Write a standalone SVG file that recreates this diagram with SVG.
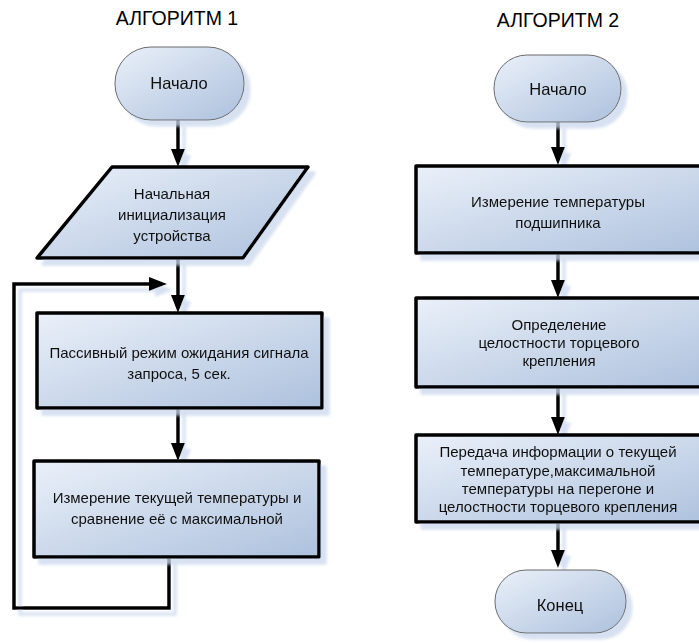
<svg xmlns="http://www.w3.org/2000/svg" width="699" height="643" viewBox="0 0 699 643">
<defs>
<linearGradient id="g" x1="0" y1="0" x2="1" y2="1">
<stop offset="0" stop-color="#eaf0f9"/>
<stop offset="1" stop-color="#adc1dd"/>
</linearGradient>
<filter id="sh" x="-10%" y="-10%" width="130%" height="130%">
<feGaussianBlur in="SourceAlpha" stdDeviation="1.5" result="b"/>
<feOffset in="b" dx="6" dy="6" result="o"/>
<feFlood flood-color="#c9d7ec" flood-opacity="0.75"/>
<feComposite in2="o" operator="in" result="s"/>
<feMerge><feMergeNode in="s"/><feMergeNode in="SourceGraphic"/></feMerge>
</filter>
<marker id="ah" viewBox="0 0 18 14" refX="8" refY="7" markerWidth="18" markerHeight="14" markerUnits="userSpaceOnUse" orient="auto">
<path d="M0,0 L18,7 L0,14 z" fill="#000"/>
</marker>
</defs>
<style>
.t{font-family:"Liberation Sans",Arial,sans-serif;font-size:15px;fill:#111;text-anchor:middle}
.tt{font-family:"Liberation Sans",Arial,sans-serif;font-size:16.5px;fill:#111;text-anchor:middle}
.h{font-family:"Liberation Sans",Arial,sans-serif;font-size:19.5px;fill:#000;text-anchor:middle}
.box{fill:url(#g);stroke:#000;stroke-width:3.5;stroke-linejoin:round}
.term{fill:url(#g);stroke:#6b6b6b;stroke-width:1}
.c{fill:none;stroke:#000;stroke-width:3.5}
</style>
<rect width="699" height="643" fill="#fff"/>
<text class="h" x="177" y="25">АЛГОРИТМ 1</text>
<text class="h" x="558" y="27">АЛГОРИТМ 2</text>

<g id="connectors" filter="url(#sh)">
<path class="c" d="M178,120 V157" marker-end="url(#ah)"/>
<path class="c" d="M178,258 V303" marker-end="url(#ah)"/>
<path class="c" d="M178,408 V451" marker-end="url(#ah)"/>
<path class="c" d="M169,557 V608 H14 V284 H157" marker-end="url(#ah)"/>
<path class="c" d="M558,122 V155" marker-end="url(#ah)"/>
<path class="c" d="M558,253 V288" marker-end="url(#ah)"/>
<path class="c" d="M558,387 V425" marker-end="url(#ah)"/>
<path class="c" d="M558,522 V558" marker-end="url(#ah)"/>
</g>

<g id="start1" filter="url(#sh)">
<rect class="term" x="115" y="47" width="129" height="73" rx="36" ry="36"/>
<text class="tt" x="179" y="89">Начало</text>
</g>
<g id="init1" filter="url(#sh)">
<path class="box" d="M112,167 L308,167 L243,258 L37,258 Z"/>
<text class="t" x="172" y="199">Начальная</text>
<text class="t" x="172" y="220">инициализация</text>
<text class="t" x="172" y="241">устройства</text>
</g>
<g id="wait1" filter="url(#sh)">
<rect class="box" x="37" y="313" width="285" height="95"/>
<text class="t" x="179" y="358">Пассивный режим ожидания сигнала</text>
<text class="t" x="179" y="379">запроса, 5 сек.</text>
</g>
<g id="measure1" filter="url(#sh)">
<rect class="box" x="34" y="461" width="285" height="96"/>
<text class="t" x="177" y="503">Измерение текущей температуры и</text>
<text class="t" x="177" y="524">сравнение её с максимальной</text>
</g>

<g id="start2" filter="url(#sh)">
<rect class="term" x="494" y="55" width="127" height="67" rx="33" ry="33"/>
<text class="tt" x="558" y="95">Начало</text>
</g>
<g id="measure2" filter="url(#sh)">
<rect class="box" x="416" y="166" width="300" height="87"/>
<text class="t" x="558" y="207">Измерение температуры</text>
<text class="t" x="558" y="228">подшипника</text>
</g>
<g id="integrity2" filter="url(#sh)">
<rect class="box" x="416" y="298" width="300" height="89"/>
<text class="t" x="559" y="330">Определение</text>
<text class="t" x="559" y="348">целостности торцевого</text>
<text class="t" x="559" y="366">крепления</text>
</g>
<g id="transmit2" filter="url(#sh)">
<rect class="box" x="416" y="435" width="300" height="87"/>
<text class="t" x="558" y="457">Передача информации о текущей</text>
<text class="t" x="558" y="476">температуре,максимальной</text>
<text class="t" x="558" y="494">температуры на перегоне и</text>
<text class="t" x="558" y="512">целостности торцевого крепления</text>
</g>
<g id="end2" filter="url(#sh)">
<rect class="term" x="495" y="570" width="131" height="63" rx="31" ry="31"/>
<text class="tt" x="560" y="611">Конец</text>
</g>
</svg>
